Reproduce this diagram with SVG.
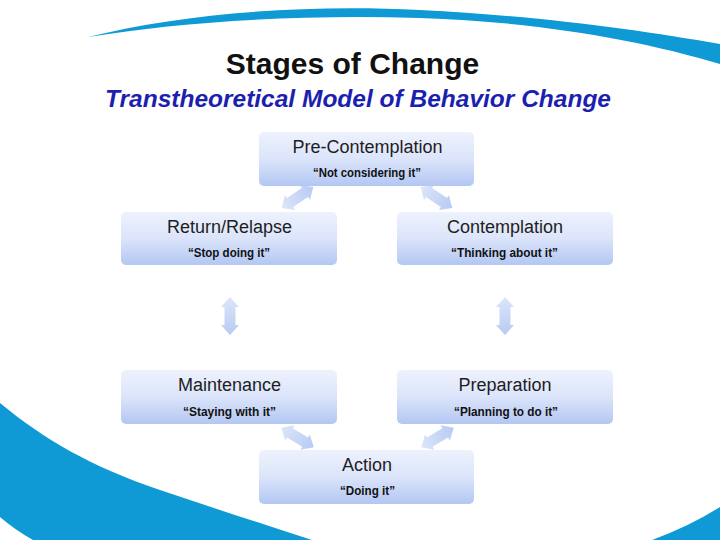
<svg xmlns="http://www.w3.org/2000/svg" width="720" height="540" viewBox="0 0 720 540">
<defs>
<linearGradient id="boxg" x1="0" y1="0" x2="0" y2="1">
<stop offset="0" stop-color="#eef2fd"/>
<stop offset="0.5" stop-color="#dbe4fa"/>
<stop offset="1" stop-color="#b3c7f3"/>
</linearGradient>
<linearGradient id="arrg" x1="0" y1="0" x2="1" y2="0">
<stop offset="0" stop-color="#dde6fa"/>
<stop offset="1" stop-color="#b6caf3"/>
</linearGradient>
<polygon id="dbl" points="-19,0 -9,-9 -9,-5.5 9,-5.5 9,-9 19,0 9,9 9,5.5 -9,5.5 -9,9"/>
</defs>
<style>
.box{fill:url(#boxg);}
.ttl{font-family:"Liberation Sans",Arial,sans-serif;font-size:18px;fill:#1e1e1e;text-anchor:middle;}
.sub{font-family:"Liberation Sans",Arial,sans-serif;font-size:12px;font-weight:bold;fill:#111;}
.arr{fill:url(#arrg);}
.sw{fill:#0f9ad6;}
</style>
<rect width="720" height="540" fill="#ffffff"/>
<g id="decor">
<path class="sw" d="M88,37 C180,14 300,4 420,10 C540,16 640,30 720,44 L720,64 C640,40 540,22 420,18 C300,14 180,22 88,37 Z"/>
<path class="sw" d="M0,403 C45,440 90,466 160,490 C210,507 260,523 312,540 L33,540 Q15,530 0,517 Z"/>
<path class="sw" d="M652,540 Q690,526 720,507 L720,540 Z"/>
</g>
<g id="title">
<text x="352.5" y="74" font-family="'Liberation Sans',Arial,sans-serif" font-size="30" font-weight="bold" text-anchor="middle" fill="#111">Stages of Change</text>
<text x="358" y="107" font-family="'Liberation Sans',Arial,sans-serif" font-size="24.5" font-weight="bold" font-style="italic" text-anchor="middle" fill="#1c1fb0">Transtheoretical Model of Behavior Change</text>
</g>
<g id="connectors">
<use href="#dbl" class="arr" transform="translate(297.5,197.5) rotate(-34)"/>
<use href="#dbl" class="arr" transform="translate(436.5,197.5) rotate(34)"/>
<use href="#dbl" class="arr" transform="translate(230,316) rotate(90)"/>
<use href="#dbl" class="arr" transform="translate(505,316) rotate(90)"/>
<use href="#dbl" class="arr" transform="translate(297.5,437.5) rotate(31)"/>
<use href="#dbl" class="arr" transform="translate(437.5,437.5) rotate(-31)"/>
</g>
<g id="precontemplation">
<rect class="box" x="259" y="132" width="215" height="54" rx="5"/>
<text class="ttl" x="367.5" y="153">Pre-Contemplation</text>
<text class="sub" x="313" y="177" textLength="108" lengthAdjust="spacingAndGlyphs">“Not considering it”</text>
</g>
<g id="contemplation">
<rect class="box" x="397" y="212" width="216" height="53" rx="5"/>
<text class="ttl" x="505" y="233">Contemplation</text>
<text class="sub" x="451" y="257" textLength="107" lengthAdjust="spacingAndGlyphs">“Thinking about it”</text>
</g>
<g id="returnrelapse">
<rect class="box" x="121" y="212" width="216" height="53" rx="5"/>
<text class="ttl" x="229.5" y="233">Return/Relapse</text>
<text class="sub" x="188" y="257" textLength="82" lengthAdjust="spacingAndGlyphs">“Stop doing it”</text>
</g>
<g id="preparation">
<rect class="box" x="397" y="370" width="216" height="54" rx="5"/>
<text class="ttl" x="505" y="391">Preparation</text>
<text class="sub" x="454" y="416" textLength="104" lengthAdjust="spacingAndGlyphs">“Planning to do it”</text>
</g>
<g id="maintenance">
<rect class="box" x="121" y="370" width="216" height="54" rx="5"/>
<text class="ttl" x="229.5" y="391">Maintenance</text>
<text class="sub" x="183" y="416" textLength="93" lengthAdjust="spacingAndGlyphs">“Staying with it”</text>
</g>
<g id="action">
<rect class="box" x="259" y="450" width="215" height="54" rx="5"/>
<text class="ttl" x="367" y="471">Action</text>
<text class="sub" x="340" y="495" textLength="55" lengthAdjust="spacingAndGlyphs">“Doing it”</text>
</g>
</svg>
